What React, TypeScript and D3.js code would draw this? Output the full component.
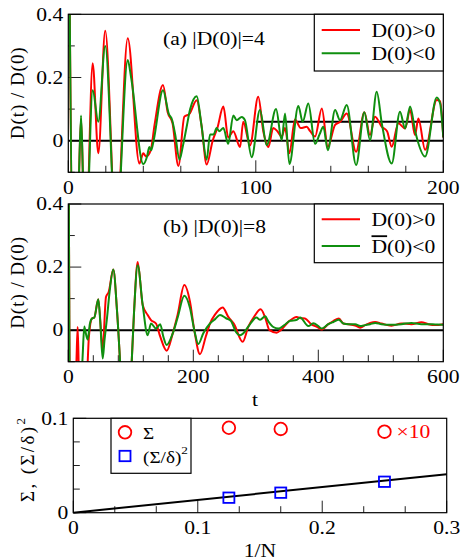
import React from 'react';
import * as d3 from 'd3';

const FONT = "'Liberation Serif','Times New Roman',serif";
const RED = '#ff0000';
const GREEN = '#0f8f0f';
const BLUE = '#0000ff';

// Panel (a): |D(0)|=4, t in [0,200]
const redA: [number, number][] = [
  [0, 1.0], [2.5, -0.3], [4.5, -0.3], [5.5, -0.15], [6.8, 0.07], [8, -0.15], [9.5, -0.3], [13, 0.245], [16, -0.04],
  [19.7, 0.348], [25.5, -0.3], [31.7, 0.324], [37.9, -0.072], [40, -0.04], [41.5, -0.05], [44, -0.03], [46, 0.05],
  [50.5, 0.176], [53, 0.09], [55.6, 0.055], [58.7, -0.08], [61.9, 0.076], [64.6, 0.085], [68.5, 0.128], [71, 0.05],
  [73.8, -0.075], [77, 0.0], [79.5, 0.04], [82.7, 0.108], [85.3, 0.01], [88, 0.03], [91.6, -0.02], [93.3, 0.06],
  [96.9, -0.015], [101.3, 0.139], [104, 0.03], [106.7, -0.02], [109.3, 0.04], [111.5, 0.03], [113.8, 0.013],
  [115.6, 0.04], [117.9, -0.04], [120.9, 0.067], [124, 0.04], [127.1, 0.044], [129, 0.03], [131.6, 0.013],
  [135.2, 0.102], [138.4, -0.019], [142.3, 0.05], [145, 0.06], [148.5, 0.086], [153.5, -0.035], [157.9, 0.09],
  [160.9, 0.018], [163.6, 0.076], [167.2, 0.044], [170, 0.03], [172.5, -0.019], [176, 0.055], [179.6, 0.039],
  [182.3, 0.097], [184.9, 0.018], [186.7, 0.07], [190.3, -0.029], [196.5, 0.129], [198.3, 0.125], [200, 0.01],
];
const greenA: [number, number][] = [
  [0, 1.0], [2.5, -0.3], [4.5, -0.3], [5.5, -0.15], [6.8, 0.08], [8, -0.15], [9.5, -0.3], [13, 0.16], [16, 0.06],
  [19.7, 0.30], [25.5, -0.3], [31.7, 0.255], [33.5, 0.2], [40, -0.074], [42, -0.05], [43.2, -0.02], [44.2, -0.03],
  [45.5, 0.0], [50.5, 0.16], [53.6, 0.085], [55.4, 0.065], [57, 0.02], [59.3, -0.06], [61, -0.02], [63, 0.04],
  [65, 0.1], [68.5, 0.141], [71, 0.05], [73.8, -0.06], [75.6, 0.02], [77.5, 0.02], [79.1, 0.04], [80.5, 0.03],
  [82.7, 0.04], [85.3, -0.01], [88, 0.08], [89.8, 0.065], [92.5, 0.075], [94.2, 0.065], [97.8, -0.052],
  [102.2, 0.097], [105.8, -0.014], [110.8, 0.10], [113.8, 0.002], [115.6, 0.086], [117.9, -0.074], [122.7, 0.11],
  [125, 0.06], [128, 0.118], [131.6, -0.01], [134, 0.02], [136, 0.044], [138.4, -0.03], [142.3, 0.097],
  [144.9, 0.065], [148.5, 0.113], [153.5, -0.077], [157.9, 0.09], [160.9, 0.002], [164.5, 0.155], [167.2, 0.055],
  [172.5, -0.072], [176.9, 0.092], [179.6, 0.039], [182.3, 0.108], [185, 0.03], [190.3, -0.05], [196.5, 0.137],
  [198.3, 0.118], [200, 0.01],
];
const refLinesA: [number, number, number][] = [[0, 200, 0], [100, 200, 0.06]];

// Panel (b): |D(0)|=8, t in [0,600]
const redB: [number, number][] = [
  [0, 1.0], [3, -0.3], [9, -0.3], [13, -0.1], [15, 0.01], [17, -0.15], [20, -0.3], [26, -0.3], [30, -0.15],
  [33, -0.02], [37.9, 0.037], [41.6, 0.04], [48, 0.098], [55, -0.058], [60.3, 0.105], [64.6, 0.121], [72, 0.192],
  [78, 0.06], [84.3, -0.15], [92, -0.4], [100.3, -0.15], [105, 0.05], [111, 0.216], [119, 0.08], [127, 0.048],
  [132.3, 0.032], [140.3, 0.021], [147, -0.02], [157.4, -0.065], [167, -0.011], [175, 0.05], [185.6, 0.143],
  [194.7, 0.09], [201.6, 0.0], [210.7, -0.076], [220, -0.02], [226.7, 0.021], [235, 0.05], [247, 0.072],
  [256, 0.042], [265, 0.02], [279, -0.037], [288, 0.011], [298, 0.045], [307.8, 0.066], [315, 0.04], [322, 0.0],
  [333.4, -0.008], [340, 0.0], [352, 0.026], [365.4, 0.042], [372, 0.038], [378.7, 0.037], [388, 0.02],
  [400, 0.008], [405, 0.002], [416, 0.019], [424, 0.029], [433, 0.037], [440, 0.021], [448, 0.019], [459, 0.015],
  [467, 0.008], [475, 0.016], [483, 0.023], [491, 0.026], [501, 0.021], [517, 0.014], [533, 0.021], [549, 0.019],
  [565, 0.025], [576, 0.019], [587, 0.016], [600, 0.019],
];
const greenB: [number, number][] = [
  [0, 1.0], [3, -0.3], [9, -0.3], [15, -0.3], [20, -0.2], [23, -0.08], [25.6, 0.012], [28, -0.01], [31, -0.03],
  [34.5, 0.02], [37.9, 0.037], [41.6, 0.04], [48, 0.098], [51, 0.03], [55, -0.09], [58, -0.03], [62, 0.04],
  [66, 0.12], [72, 0.192], [78, 0.06], [84.3, -0.15], [92, -0.4], [100.3, -0.15], [105, 0.05], [111, 0.206],
  [119, 0.08], [127, -0.016], [132.3, 0.021], [140.3, 0.005], [147, 0.019], [152, -0.02], [157.4, -0.047],
  [167, -0.011], [175, 0.04], [185.6, 0.109], [194.7, 0.07], [201.6, 0.0], [208, -0.044], [216, -0.01],
  [226.7, 0.021], [235, 0.035], [242.7, 0.048], [253, 0.037], [260, 0.03], [268, -0.005], [275, -0.016],
  [280, -0.01], [288, 0.011], [301, 0.04], [307, 0.033], [315, 0.044], [320, 0.028], [328, 0.01], [336, 0.005],
  [345, 0.015], [355, 0.03], [365, 0.032], [371, 0.04], [384, 0.013], [392, 0.022], [400, 0.013], [405, 0.005],
  [416, 0.019], [424, 0.026], [433, 0.033], [440, 0.021], [448, 0.019], [459, 0.019], [467, 0.013], [475, 0.016],
  [483, 0.019], [491, 0.023], [501, 0.019], [517, 0.017], [533, 0.019], [549, 0.023], [565, 0.019], [576, 0.019],
  [587, 0.018], [600, 0.017],
];
const refLinesB: [number, number, number][] = [[0, 600, 0]];

// Panel (c)
const invN = [0.125, 1 / 6, 0.25];
const sigma = [0.090, 0.0887, 0.0858];
const sigmaRatio2 = [0.0159, 0.0212, 0.0328];
const fitX = [0, 0.3];
const fitY = [0, 0.0407];

const xTicksA = ['0', '100', '200'];
const xTicksB = ['0', '200', '400', '600'];
const yTicksAB = ['0', '0.2', '0.4'];
const xTicksC = ['0', '0.1', '0.2', '0.3'];
const yTicksC = ['0', '0.1'];

const SX = 1.2;

function T({ x, y, anchor = 'start', size = 18, sx = SX, fill = '#000', children, dy }: any) {
  return (
    <g transform={`translate(${x},${y}) scale(${sx},1)`}>
      <text x={0} y={0} dy={dy} textAnchor={anchor} fontSize={size} fontFamily={FONT} fill={fill}>
        {children}
      </text>
    </g>
  );
}

function TimePanel({ id, x0, x1, y0, y1, xMax, xMinorStep, xTicks, red, green, refs, label, second, leg }: any) {
  const x = d3.scaleLinear().domain([0, xMax]).range([x0, x1]);
  const y = d3.scaleLinear().domain([-0.1, 0.4]).range([y1, y0]);
  const line = d3.line<[number, number]>().x(d => x(d[0])).y(d => y(d[1])).curve(d3.curveMonotoneX);
  const xMinor = d3.range(0, xMax + 1e-9, xMinorStep);
  const xMajorVals = xTicks.map((s: string) => +s);
  const yMinor = d3.range(-0.1, 0.4001, 0.1);
  const yMajorVals = yTicksAB.map(s => +s);
  return (
    <g>
      <defs>
        <clipPath id={id}>
          <rect x={x0} y={y0} width={x1 - x0} height={y1 - y0} />
        </clipPath>
      </defs>
      {/* ticks */}
      {xMinor.map((v: number, i: number) => {
        const major = xMajorVals.some((m: number) => Math.abs(m - v) < 1e-6);
        return <line key={'xt' + i} x1={x(v)} x2={x(v)} y1={y1} y2={y1 - (major ? 12 : 6.5)} stroke="#222" strokeWidth={1} />;
      })}
      {yMinor.map((v: number, i: number) => {
        const major = yMajorVals.some(m => Math.abs(m - v) < 1e-6);
        return <line key={'yt' + i} x1={x0} x2={x0 + (major ? 13 : 6.5)} y1={y(v)} y2={y(v)} stroke="#222" strokeWidth={1} />;
      })}
      <g clipPath={`url(#${id})`}>
        {refs.map((r: number[], i: number) => (
          <line key={'r' + i} x1={x(r[0])} x2={x(r[1])} y1={y(r[2])} y2={y(r[2])} stroke="#000" strokeWidth={2} />
        ))}
        <path d={line(red) || ''} fill="none" stroke={RED} strokeWidth={2} strokeLinejoin="round" />
        <path d={line(green) || ''} fill="none" stroke={GREEN} strokeWidth={2} strokeLinejoin="round" />
      </g>
      <rect x={x0} y={y0} width={x1 - x0} height={y1 - y0} fill="none" stroke="#000" strokeWidth={1.2} />
      {/* tick labels */}
      {xTicks.map((s: string, i: number) => (
        <T key={'xl' + i} x={x(+s)} y={y1 + 21.5} anchor="middle">{s}</T>
      ))}
      {yTicksAB.map((s: string, i: number) => (
        <T key={'yl' + i} x={x0 - 5} y={y(+s)} anchor="end" dy="0.35em">{s}</T>
      ))}
      <T x={163} y={y0 + label.dy}>{label.text}</T>
      {/* legend */}
      <rect x={314.3} y={y0} width={x1 - 314.3} height={leg.h} fill="#fff" stroke="#000" strokeWidth={1.2} />
      <line x1={321.7} x2={360} y1={y0 + leg.r} y2={y0 + leg.r} stroke={RED} strokeWidth={2} />
      <line x1={321.7} x2={360} y1={y0 + leg.g} y2={y0 + leg.g} stroke={GREEN} strokeWidth={2} />
      <T x={371.5} y={y0 + leg.r + 6.5}>D(0)&gt;0</T>
      {second === 'bar' ? (
        <T x={371.5} y={y0 + leg.g + 6.5}>
          <tspan style={{ textDecoration: 'overline' }}>D</tspan>(0)&lt;0
        </T>
      ) : (
        <T x={371.5} y={y0 + leg.g + 6.5}>D(0)&lt;0</T>
      )}
      <g transform={`translate(17.5,${(y0 + y1) / 2}) rotate(-90)`}>
        <text x={0} y={6} textAnchor="middle" fontSize={19} fontFamily={FONT} textLength={92} lengthAdjust="spacing">
          D(t) / D(0)
        </text>
      </g>
    </g>
  );
}

function PanelC() {
  const x0 = 73.3, x1 = 446.7, y0 = 418.3, y1 = 512.7;
  const x = d3.scaleLinear().domain([0, 0.3]).range([x0, x1]);
  const y = d3.scaleLinear().domain([0, 0.1]).range([y1, y0]);
  const xMinor = d3.range(0, 0.3 + 1e-9, 0.1 / 3);
  const yMinor = d3.range(0, 0.1 + 1e-9, 0.025);
  const fit = d3.line<number>().x(d => x(d)).y((d, i) => y(fitY[i]));
  const isMajor = (v: number, step: number) => Math.abs(v / step - Math.round(v / step)) < 1e-6;
  return (
    <g>
      {xMinor.map((v, i) => (
        <line key={'cx' + i} x1={x(v)} x2={x(v)} y1={y1} y2={y1 - (isMajor(v, 0.1) ? 12 : 6.5)} stroke="#222" strokeWidth={1} />
      ))}
      {yMinor.map((v, i) => (
        <line key={'cy' + i} x1={x0} x2={x0 + (isMajor(v, 0.1) ? 13 : 6.5)} y1={y(v)} y2={y(v)} stroke="#222" strokeWidth={1} />
      ))}
      <path d={fit(fitX) || ''} stroke="#000" strokeWidth={2} fill="none" />
      {invN.map((v, i) => (
        <circle key={'c' + i} cx={x(v)} cy={y(sigma[i])} r={6.3} fill="none" stroke={RED} strokeWidth={1.8} />
      ))}
      {invN.map((v, i) => (
        <rect key={'s' + i} x={x(v) - 5.5} y={y(sigmaRatio2[i]) - 5.2} width={11} height={10.4} fill="none" stroke={BLUE} strokeWidth={1.8} />
      ))}
      <rect x={x0} y={y0} width={x1 - x0} height={y1 - y0} fill="none" stroke="#000" strokeWidth={1.2} />
      <T x={x(invN[2]) + 12} y={y(sigma[2]) + 6} fill={RED}>×10</T>
      {/* legend */}
      <rect x={111} y={y0} width={80} height={55} fill="#fff" stroke="#000" strokeWidth={1.2} />
      <circle cx={125} cy={432.3} r={6.3} fill="none" stroke={RED} strokeWidth={1.8} />
      <rect x={119.5} y={450.8} width={11} height={10.4} fill="none" stroke={BLUE} strokeWidth={1.8} />
      <T x={143} y={438.5} size={16}>Σ</T>
      <T x={143} y={462.5} size={16}>(Σ/δ)<tspan dy={-9} fontSize={11}>2</tspan></T>
      {xTicksC.map((s, i) => (
        <T key={'xl' + i} x={x(+s)} y={y1 + 21} anchor="middle">{s}</T>
      ))}
      {yTicksC.map((s, i) => (
        <T key={'yl' + i} x={x0 - 5} y={y(+s)} anchor="end" dy="0.35em">{s}</T>
      ))}
      <T x={260} y={557} anchor="middle">1/N</T>
      <g transform={`translate(27.5,460) rotate(-90)`}>
        <text x={0} y={6} textAnchor="middle" fontSize={19} fontFamily={FONT} textLength={84} lengthAdjust="spacing">
          Σ, (Σ/δ)<tspan dy={-9} fontSize={13}>2</tspan>
        </text>
      </g>
    </g>
  );
}

export default function App() {
  return (
    <svg width={461} height={560} style={{ position: 'absolute', left: 0, top: 0, background: '#fff' }}>
      <rect x={0} y={0} width={461} height={560} fill="#fff" />
      <TimePanel id="clipA" x0={68.3} x1={443.3} y0={14.3} y1={172.3} xMax={200} xMinorStep={20} xTicks={xTicksA}
        red={redA} green={greenA} refs={refLinesA} label={{ text: '(a) |D(0)|=4', dy: 31 }} second="plain"
        leg={{ h: 56.7, r: 15.7, g: 39 }} />
      <TimePanel id="clipB" x0={68.3} x1={443.3} y0={204} y1={361.7} xMax={600} xMinorStep={40} xTicks={xTicksB}
        red={redB} green={greenB} refs={refLinesB} label={{ text: '(b) |D(0)|=8', dy: 29 }} second="bar"
        leg={{ h: 58.7, r: 15.3, g: 42 }} />
      <T x={255} y={406} anchor="middle">t</T>
      <PanelC />
    </svg>
  );
}
